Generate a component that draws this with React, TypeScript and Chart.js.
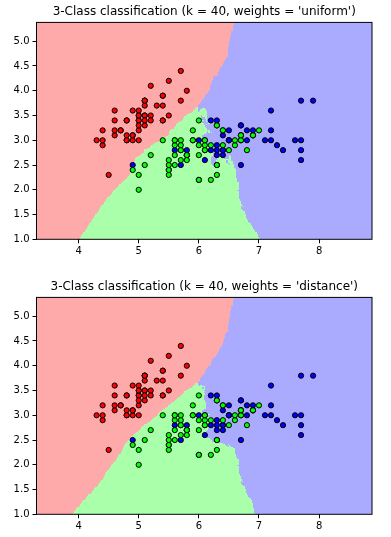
import React, { useEffect, useRef } from 'react';
import { Chart, registerables } from 'chart.js';

Chart.register(...registerables);

// Iris data: sepal length (x) and sepal width (y) per class
const setosaLength = [5.1,4.9,4.7,4.6,5.0,5.4,4.6,5.0,4.4,4.9,5.4,4.8,4.8,4.3,5.8,5.7,5.4,5.1,5.7,5.1,5.4,5.1,4.6,5.1,4.8,5.0,5.0,5.2,5.2,4.7,4.8,5.4,5.2,5.5,4.9,5.0,5.5,4.9,4.4,5.1,5.0,4.5,4.4,5.0,5.1,4.8,5.1,4.6,5.3,5.0];
const setosaWidth = [3.5,3.0,3.2,3.1,3.6,3.9,3.4,3.4,2.9,3.1,3.7,3.4,3.0,3.0,4.0,4.4,3.9,3.5,3.8,3.8,3.4,3.7,3.6,3.3,3.4,3.0,3.4,3.5,3.4,3.2,3.1,3.4,4.1,4.2,3.1,3.2,3.5,3.6,3.0,3.4,3.5,2.3,3.2,3.5,3.8,3.0,3.8,3.2,3.7,3.3];
const versicolorLength = [7.0,6.4,6.9,5.5,6.5,5.7,6.3,4.9,6.6,5.2,5.0,5.9,6.0,6.1,5.6,6.7,5.6,5.8,6.2,5.6,5.9,6.1,6.3,6.1,6.4,6.6,6.8,6.7,6.0,5.7,5.5,5.5,5.8,6.0,5.4,6.0,6.7,6.3,5.6,5.5,5.5,6.1,5.8,5.0,5.6,5.7,5.7,6.2,5.1,5.7];
const versicolorWidth = [3.2,3.2,3.1,2.3,2.8,2.8,3.3,2.4,2.9,2.7,2.0,3.0,2.2,2.9,2.9,3.1,3.0,2.7,2.2,2.5,3.2,2.8,2.5,2.8,2.9,3.0,2.8,3.0,2.9,2.6,2.4,2.4,2.7,2.7,3.0,3.4,3.1,2.3,3.0,2.5,2.6,3.0,2.6,2.3,2.7,3.0,2.9,2.9,2.5,2.8];
const virginicaLength = [6.3,5.8,7.1,6.3,6.5,7.6,4.9,7.3,6.7,7.2,6.5,6.4,6.8,5.7,5.8,6.4,6.5,7.7,7.7,6.0,6.9,5.6,7.7,6.3,6.7,7.2,6.2,6.1,6.4,7.2,7.4,7.9,6.4,6.3,6.1,7.7,6.3,6.4,6.0,6.9,6.7,6.9,5.8,6.8,6.7,6.7,6.3,6.5,6.2,5.9];
const virginicaWidth = [3.3,2.7,3.0,2.9,3.0,3.0,2.5,2.9,2.5,3.6,3.2,2.7,3.0,2.5,2.8,3.2,3.0,3.8,2.6,2.2,3.2,2.8,2.8,2.7,3.3,3.2,2.8,3.0,2.8,3.0,2.8,3.8,2.8,2.8,2.6,3.0,3.4,3.1,3.0,3.1,3.1,3.1,2.7,3.2,3.3,3.0,2.5,3.0,3.4,3.0];

const classLengths = [setosaLength, versicolorLength, virginicaLength];
const classWidths = [setosaWidth, versicolorWidth, virginicaWidth];
const lightColors = ['#FFAAAA', '#AAFFAA', '#AAAAFF'];
const boldColors = ['#FF0000', '#00FF00', '#0000FF'];
const weightModes = ['uniform', 'distance'];
const nNeighbors = 40;
const meshStep = 0.02;
const xTicks = [4, 5, 6, 7, 8];
const yTicks = [1.0, 1.5, 2.0, 2.5, 3.0, 3.5, 4.0, 4.5, 5.0];

const FONT = "'DejaVu Sans', sans-serif";

type Mesh = { xs: number[]; ys: number[]; z: Uint8Array[] };

function arange(start: number, stop: number, step: number): number[] {
  const n = Math.ceil((stop - start) / step);
  const out: number[] = [];
  for (let i = 0; i < n; i++) out.push(start + i * step);
  return out;
}

function computeMeshes(): Mesh {
  const X: number[] = [];
  const Y: number[] = [];
  const C: number[] = [];
  classLengths.forEach((arr, c) => {
    arr.forEach((v, i) => {
      X.push(v);
      Y.push(classWidths[c][i]);
      C.push(c);
    });
  });
  const xMin = Math.min(...X) - 1, xMax = Math.max(...X) + 1;
  const yMin = Math.min(...Y) - 1, yMax = Math.max(...Y) + 1;
  const xs = arange(xMin, xMax, meshStep);
  const ys = arange(yMin, yMax, meshStep);
  const nx = xs.length, ny = ys.length;
  const zU = new Uint8Array(nx * ny);
  const zD = new Uint8Array(nx * ny);
  const k = nNeighbors;
  const nd = new Float64Array(k);
  const ni = new Int32Array(k);
  const n = X.length;
  for (let iy = 0; iy < ny; iy++) {
    const py = ys[iy];
    for (let ix = 0; ix < nx; ix++) {
      const px = xs[ix];
      let cnt = 0;
      for (let p = 0; p < n; p++) {
        const dx = px - X[p], dy = py - Y[p];
        const d2 = dx * dx + dy * dy;
        if (cnt < k) {
          let j = cnt - 1;
          while (j >= 0 && nd[j] > d2) { nd[j + 1] = nd[j]; ni[j + 1] = ni[j]; j--; }
          nd[j + 1] = d2; ni[j + 1] = p; cnt++;
        } else if (d2 < nd[k - 1]) {
          let j = k - 2;
          while (j >= 0 && nd[j] > d2) { nd[j + 1] = nd[j]; ni[j + 1] = ni[j]; j--; }
          nd[j + 1] = d2; ni[j + 1] = p;
        }
      }
      const cu = [0, 0, 0];
      const wd = [0, 0, 0];
      let zeroHit = false;
      const wz = [0, 0, 0];
      for (let m = 0; m < k; m++) {
        const c = C[ni[m]];
        cu[c]++;
        const d = Math.sqrt(nd[m]);
        if (d === 0) { zeroHit = true; wz[c] += 1; } else wd[c] += 1 / d;
      }
      const w = zeroHit ? wz : wd;
      let bu = 0, bd = 0;
      for (let c = 1; c < 3; c++) {
        if (cu[c] > cu[bu]) bu = c;
        if (w[c] > w[bd]) bd = c;
      }
      zU[iy * nx + ix] = bu;
      zD[iy * nx + ix] = bd;
    }
  }
  return { xs, ys, z: [zU, zD] };
}

function meshPlugin(mesh: Mesh, z: Uint8Array) {
  return {
    id: 'mesh',
    beforeDatasetsDraw(chart: any) {
      const { ctx, chartArea, scales } = chart;
      const sx = scales.x, sy = scales.y;
      const { xs, ys } = mesh;
      const nx = xs.length, ny = ys.length;
      ctx.save();
      ctx.beginPath();
      ctx.rect(chartArea.left, chartArea.top, chartArea.right - chartArea.left, chartArea.bottom - chartArea.top);
      ctx.clip();
      const xe = xs.map((v) => Math.round(sx.getPixelForValue(v)));
      xe.push(Math.round(sx.getPixelForValue(xs[nx - 1] + meshStep)));
      const ye = ys.map((v) => Math.round(sy.getPixelForValue(v)));
      ye.push(Math.round(sy.getPixelForValue(ys[ny - 1] + meshStep)));
      for (let iy = 0; iy < ny; iy++) {
        const yb = ye[iy], yt = ye[iy + 1];
        if (yb === yt) continue;
        let start = 0;
        for (let ix = 1; ix <= nx; ix++) {
          if (ix === nx || z[iy * nx + ix] !== z[iy * nx + start]) {
            ctx.fillStyle = lightColors[z[iy * nx + start]];
            ctx.fillRect(xe[start], yt, xe[ix] - xe[start], yb - yt);
            start = ix;
          }
        }
      }
      ctx.restore();
    },
    afterDatasetsDraw(chart: any) {
      const { ctx, chartArea } = chart;
      ctx.save();
      ctx.strokeStyle = '#000';
      ctx.lineWidth = 1;
      ctx.strokeRect(chartArea.left, chartArea.top, chartArea.right - chartArea.left, chartArea.bottom - chartArea.top);
      ctx.restore();
    },
  };
}

function makeConfig(mesh: Mesh, idx: number): any {
  const { xs, ys } = mesh;
  const datasets = classLengths.map((arr, c) => ({
    label: String(c),
    data: arr.map((v, i) => ({ x: v, y: classWidths[c][i] })),
    backgroundColor: boldColors[c],
    borderColor: '#000',
    borderWidth: 1,
    pointRadius: 2.6,
    pointHoverRadius: 2.6,
  }));
  const tickFont = { family: FONT, size: 10 };
  return {
    type: 'scatter',
    data: { datasets },
    options: {
      animation: false,
      responsive: false,
      devicePixelRatio: 1,
      events: [],
      layout: { padding: { left: 0, right: 19, top: 0, bottom: 0 } },
      plugins: {
        legend: { display: false },
        tooltip: { enabled: false },
        title: {
          display: true,
          fullSize: false,
          text: `3-Class classification (k = ${nNeighbors}, weights = '${weightModes[idx]}')`,
          color: '#000',
          font: { family: FONT, size: 12, weight: 'normal' },
          padding: { top: 5, bottom: 3 },
        },
      },
      scales: {
        x: {
          type: 'linear',
          min: xs[0],
          max: xs[xs.length - 1],
          border: { display: false },
          grid: { display: true, drawOnChartArea: false, drawTicks: true, tickLength: 4, tickColor: '#000', color: '#000' },
          ticks: { color: '#000', font: tickFont, padding: 2, maxRotation: 0, autoSkip: false, callback: (v: number) => String(v) },
          afterBuildTicks: (scale: any) => { scale.ticks = xTicks.map((v) => ({ value: v })); },
          afterFit: (scale: any) => { scale.height = 22.7; },
        },
        y: {
          type: 'linear',
          min: ys[0],
          max: ys[ys.length - 1],
          border: { display: false },
          grid: { display: true, drawOnChartArea: false, drawTicks: true, tickLength: 4, tickColor: '#000', color: '#000' },
          ticks: { color: '#000', font: tickFont, padding: 3, autoSkip: false, callback: (v: number) => v.toFixed(1) },
          afterBuildTicks: (scale: any) => { scale.ticks = yTicks.map((v) => ({ value: v })); },
          afterFit: (scale: any) => { scale.width = 36.5; },
        },
      },
    },
    plugins: [meshPlugin(mesh, mesh.z[idx])],
  };
}

export default function App() {
  const ref1 = useRef<HTMLCanvasElement>(null);
  const ref2 = useRef<HTMLCanvasElement>(null);
  useEffect(() => {
    const mesh = computeMeshes();
    const charts: Chart[] = [];
    [ref1, ref2].forEach((r, i) => {
      if (r.current) charts.push(new Chart(r.current, makeConfig(mesh, i)));
    });
    return () => charts.forEach((c) => c.destroy());
  }, []);
  return (
    <div style={{ position: 'absolute', left: 0, top: 0, width: 391, height: 537, background: '#fff' }}>
      <canvas ref={ref1} width={391} height={262} style={{ position: 'absolute', left: 0, top: 0, width: 391, height: 262 }} />
      <canvas ref={ref2} width={391} height={262} style={{ position: 'absolute', left: 0, top: 275, width: 391, height: 262 }} />
    </div>
  );
}
